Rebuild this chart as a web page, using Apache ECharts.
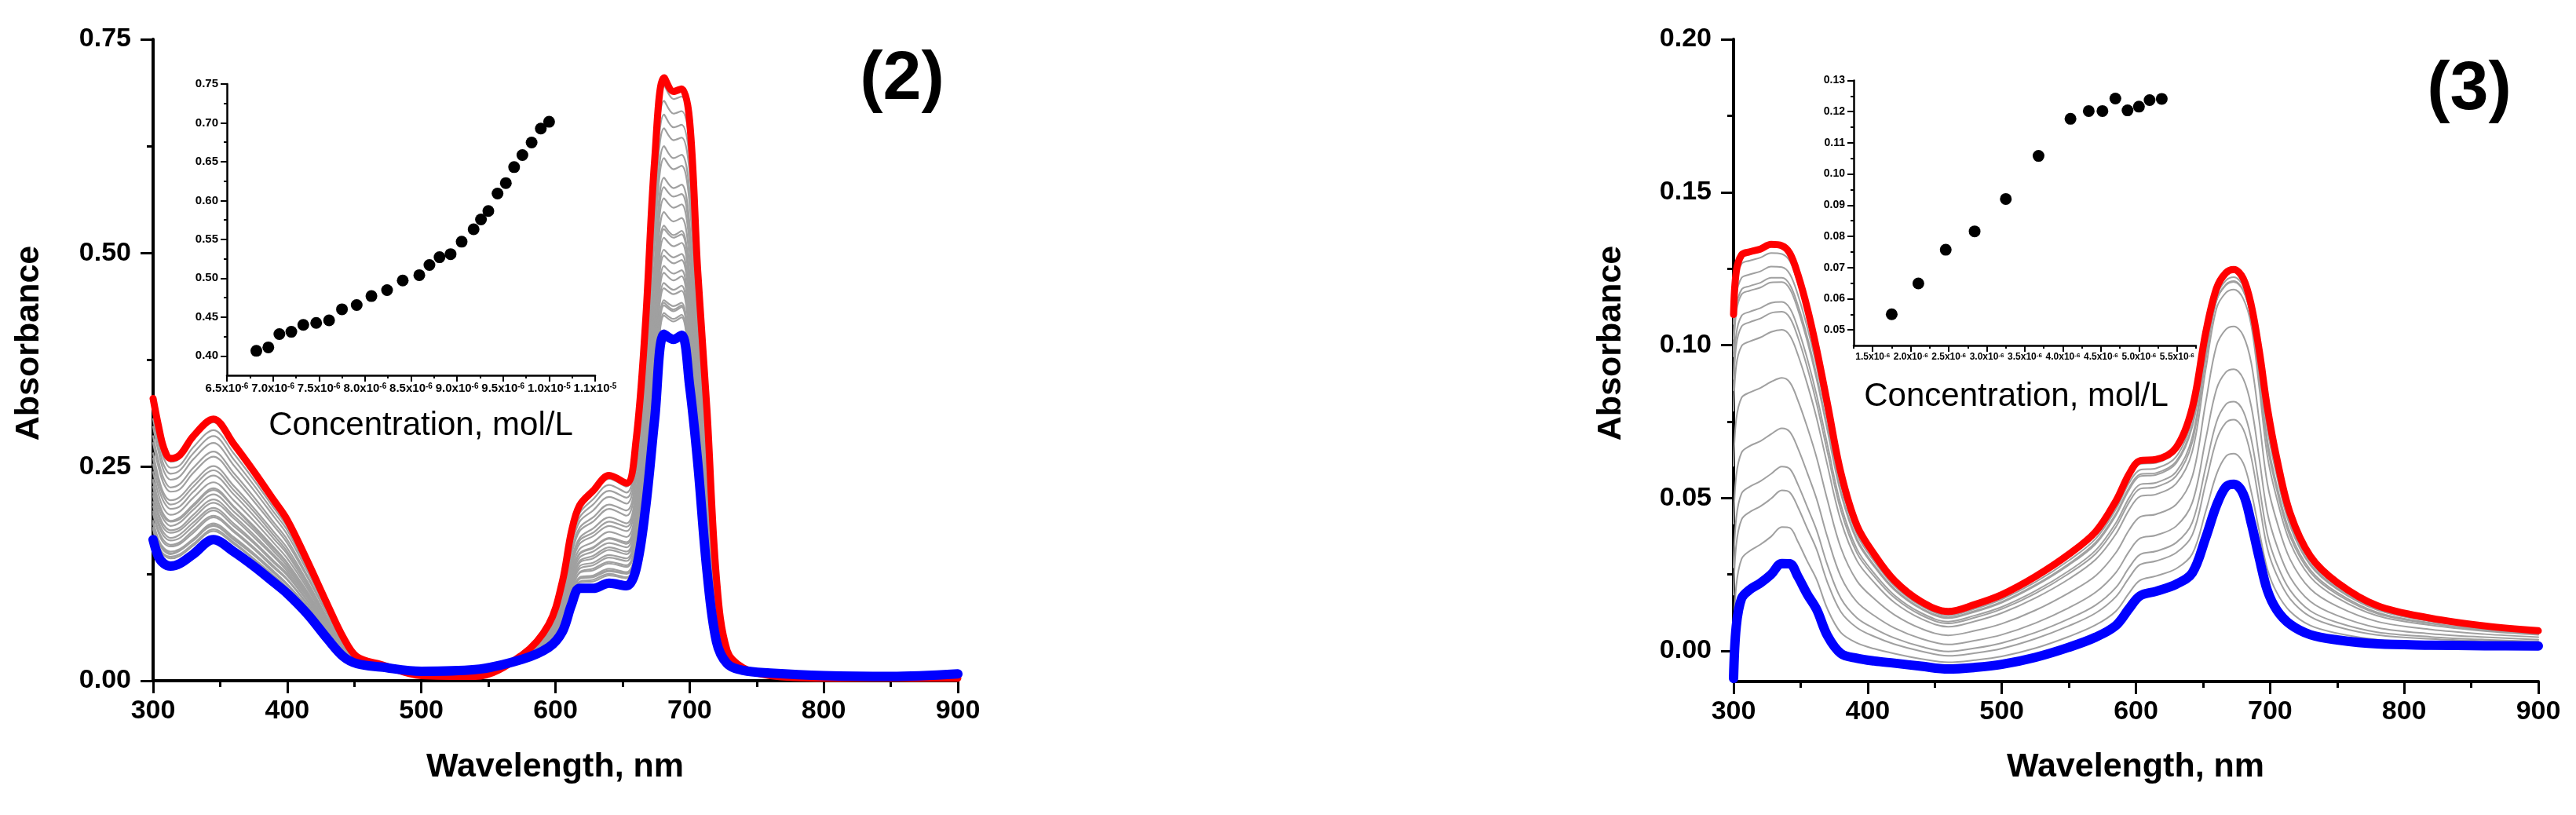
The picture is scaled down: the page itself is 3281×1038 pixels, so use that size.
<!DOCTYPE html>
<html><head><meta charset="utf-8">
<script src="https://cdn.jsdelivr.net/npm/echarts@6/dist/echarts.min.js"></script>
<style>html,body{margin:0;padding:0;background:#fff}#c{width:3281px;height:1038px}</style>
</head><body><div id="c"></div>
<script>
// ---------------- Panel (2) : main spectra ----------------
const wl2 = [300,304,308,313,320,330,345,360,375,390,400,415,430,442,452,470,500,540,575,595,605,612,618,628,640,653,660,667,674,681,688,694,700,706,713,720,728,740,760,800,850,900];
const red2 = [0.330,0.298,0.272,0.260,0.264,0.286,0.306,0.277,0.245,0.211,0.188,0.140,0.089,0.050,0.028,0.019,0.006,0.005,0.030,0.066,0.115,0.175,0.205,0.222,0.240,0.231,0.280,0.415,0.610,0.705,0.689,0.692,0.655,0.480,0.315,0.120,0.035,0.015,0.006,0.003,0.003,0.003];
const blue2 = [0.165,0.145,0.137,0.134,0.137,0.148,0.165,0.151,0.134,0.115,0.102,0.078,0.049,0.028,0.020,0.016,0.011,0.013,0.025,0.039,0.057,0.089,0.108,0.108,0.114,0.111,0.130,0.200,0.307,0.405,0.399,0.404,0.345,0.256,0.128,0.046,0.020,0.012,0.009,0.006,0.005,0.008];
// one row per wavelength of wl2, 25 intermediate (grey) spectra per row
const gray2 = [
[0.168,0.177,0.179,0.184,0.185,0.187,0.195,0.198,0.204,0.209,0.216,0.220,0.227,0.233,0.235,0.244,0.253,0.260,0.266,0.278,0.286,0.297,0.306,0.315,0.325],
[0.147,0.156,0.158,0.162,0.164,0.165,0.173,0.176,0.182,0.186,0.192,0.196,0.202,0.208,0.210,0.218,0.226,0.233,0.238,0.250,0.257,0.268,0.276,0.284,0.293],
[0.139,0.147,0.148,0.152,0.154,0.155,0.161,0.164,0.169,0.173,0.178,0.182,0.188,0.192,0.194,0.201,0.209,0.215,0.219,0.230,0.236,0.245,0.252,0.260,0.268],
[0.136,0.143,0.145,0.148,0.149,0.151,0.157,0.159,0.164,0.167,0.173,0.176,0.181,0.186,0.187,0.194,0.201,0.206,0.211,0.221,0.226,0.235,0.242,0.249,0.256],
[0.139,0.146,0.148,0.152,0.153,0.154,0.160,0.162,0.167,0.171,0.176,0.179,0.185,0.189,0.191,0.198,0.204,0.210,0.215,0.224,0.230,0.239,0.246,0.252,0.260],
[0.150,0.158,0.160,0.164,0.165,0.166,0.173,0.176,0.181,0.185,0.190,0.194,0.200,0.204,0.206,0.214,0.221,0.227,0.232,0.243,0.249,0.259,0.266,0.273,0.282],
[0.167,0.175,0.177,0.181,0.182,0.184,0.191,0.193,0.199,0.202,0.208,0.212,0.218,0.223,0.225,0.232,0.240,0.246,0.251,0.262,0.268,0.278,0.286,0.293,0.302],
[0.153,0.160,0.162,0.165,0.166,0.168,0.174,0.176,0.181,0.184,0.190,0.193,0.198,0.203,0.204,0.211,0.218,0.223,0.228,0.238,0.243,0.252,0.259,0.266,0.273],
[0.136,0.142,0.143,0.147,0.148,0.149,0.154,0.156,0.161,0.163,0.168,0.171,0.176,0.179,0.181,0.187,0.193,0.198,0.202,0.210,0.215,0.223,0.229,0.235,0.242],
[0.116,0.122,0.123,0.126,0.127,0.128,0.132,0.134,0.138,0.140,0.145,0.147,0.151,0.154,0.156,0.161,0.166,0.170,0.174,0.181,0.185,0.192,0.197,0.202,0.208],
[0.103,0.108,0.109,0.112,0.113,0.113,0.118,0.119,0.123,0.125,0.128,0.131,0.134,0.137,0.138,0.143,0.148,0.151,0.155,0.161,0.165,0.171,0.176,0.180,0.185],
[0.079,0.083,0.083,0.085,0.086,0.086,0.089,0.090,0.093,0.094,0.097,0.099,0.101,0.103,0.104,0.108,0.111,0.114,0.116,0.121,0.123,0.128,0.131,0.134,0.138],
[0.050,0.052,0.052,0.054,0.054,0.054,0.056,0.057,0.059,0.060,0.061,0.062,0.064,0.065,0.066,0.068,0.070,0.072,0.073,0.077,0.078,0.081,0.083,0.085,0.088],
[0.028,0.030,0.030,0.031,0.031,0.031,0.032,0.032,0.033,0.034,0.035,0.035,0.036,0.037,0.037,0.039,0.040,0.041,0.041,0.043,0.044,0.046,0.047,0.048,0.049],
[0.020,0.021,0.021,0.021,0.021,0.021,0.021,0.022,0.022,0.022,0.023,0.023,0.023,0.023,0.023,0.024,0.024,0.025,0.025,0.026,0.026,0.026,0.027,0.027,0.028],
[0.016,0.016,0.016,0.016,0.016,0.016,0.017,0.017,0.017,0.017,0.017,0.017,0.017,0.017,0.017,0.017,0.018,0.018,0.018,0.018,0.018,0.018,0.019,0.019,0.019],
[0.011,0.011,0.011,0.010,0.010,0.010,0.010,0.010,0.010,0.010,0.009,0.009,0.009,0.009,0.009,0.009,0.008,0.008,0.008,0.008,0.007,0.007,0.007,0.006,0.006],
[0.013,0.012,0.012,0.012,0.012,0.012,0.012,0.011,0.011,0.011,0.011,0.010,0.010,0.010,0.010,0.009,0.009,0.008,0.008,0.008,0.007,0.007,0.006,0.006,0.005],
[0.025,0.025,0.025,0.026,0.026,0.026,0.026,0.026,0.026,0.026,0.027,0.027,0.027,0.027,0.027,0.027,0.028,0.028,0.028,0.028,0.029,0.029,0.029,0.030,0.030],
[0.039,0.041,0.041,0.042,0.042,0.043,0.044,0.044,0.046,0.046,0.047,0.048,0.049,0.050,0.050,0.052,0.053,0.055,0.056,0.058,0.059,0.061,0.062,0.064,0.065],
[0.058,0.061,0.062,0.064,0.064,0.065,0.068,0.069,0.071,0.072,0.075,0.076,0.079,0.081,0.082,0.085,0.088,0.090,0.092,0.097,0.100,0.104,0.107,0.110,0.113],
[0.090,0.095,0.096,0.099,0.100,0.100,0.105,0.106,0.110,0.112,0.115,0.118,0.121,0.124,0.125,0.130,0.135,0.138,0.142,0.148,0.152,0.158,0.163,0.167,0.172],
[0.110,0.115,0.116,0.119,0.120,0.121,0.126,0.127,0.131,0.134,0.138,0.140,0.144,0.148,0.149,0.154,0.160,0.164,0.167,0.175,0.179,0.186,0.191,0.196,0.202],
[0.110,0.116,0.118,0.121,0.122,0.123,0.129,0.131,0.135,0.138,0.143,0.146,0.151,0.155,0.156,0.162,0.169,0.173,0.178,0.186,0.191,0.199,0.206,0.212,0.219],
[0.116,0.123,0.125,0.128,0.129,0.131,0.137,0.139,0.144,0.147,0.153,0.156,0.161,0.166,0.167,0.174,0.181,0.186,0.191,0.201,0.206,0.215,0.222,0.229,0.236],
[0.113,0.120,0.121,0.125,0.126,0.127,0.133,0.135,0.140,0.143,0.148,0.151,0.156,0.160,0.162,0.168,0.175,0.180,0.184,0.193,0.199,0.207,0.214,0.220,0.227],
[0.132,0.141,0.143,0.147,0.148,0.150,0.157,0.160,0.166,0.170,0.176,0.180,0.186,0.191,0.193,0.201,0.210,0.216,0.222,0.233,0.240,0.250,0.258,0.266,0.276],
[0.203,0.216,0.218,0.225,0.226,0.229,0.239,0.243,0.251,0.257,0.266,0.271,0.281,0.288,0.291,0.302,0.314,0.323,0.331,0.348,0.357,0.372,0.384,0.395,0.409],
[0.312,0.329,0.332,0.342,0.344,0.347,0.362,0.368,0.379,0.387,0.400,0.407,0.421,0.431,0.435,0.451,0.468,0.481,0.492,0.515,0.529,0.550,0.566,0.582,0.601],
[0.410,0.427,0.430,0.439,0.442,0.445,0.459,0.465,0.477,0.485,0.497,0.504,0.518,0.528,0.532,0.548,0.564,0.577,0.588,0.611,0.625,0.646,0.662,0.678,0.696],
[0.403,0.420,0.423,0.432,0.434,0.438,0.452,0.457,0.468,0.476,0.488,0.495,0.508,0.518,0.521,0.537,0.553,0.566,0.576,0.598,0.611,0.632,0.647,0.663,0.680],
[0.408,0.425,0.428,0.437,0.439,0.442,0.456,0.462,0.473,0.480,0.492,0.499,0.512,0.522,0.526,0.541,0.557,0.569,0.580,0.602,0.615,0.635,0.650,0.666,0.683],
[0.350,0.368,0.371,0.380,0.383,0.386,0.401,0.407,0.419,0.427,0.440,0.448,0.461,0.472,0.476,0.493,0.510,0.523,0.534,0.558,0.572,0.594,0.610,0.627,0.646],
[0.259,0.272,0.275,0.282,0.283,0.286,0.297,0.301,0.310,0.315,0.325,0.330,0.340,0.348,0.351,0.363,0.375,0.385,0.393,0.410,0.420,0.436,0.448,0.460,0.473],
[0.131,0.142,0.144,0.149,0.151,0.153,0.162,0.165,0.173,0.178,0.185,0.190,0.198,0.205,0.207,0.217,0.227,0.235,0.242,0.257,0.265,0.278,0.288,0.298,0.309],
[0.047,0.051,0.052,0.054,0.055,0.056,0.059,0.061,0.064,0.066,0.069,0.071,0.074,0.076,0.077,0.081,0.085,0.089,0.091,0.097,0.100,0.105,0.109,0.113,0.118],
[0.020,0.021,0.021,0.022,0.022,0.022,0.023,0.023,0.024,0.024,0.025,0.025,0.026,0.026,0.026,0.027,0.028,0.029,0.029,0.030,0.031,0.032,0.033,0.034,0.035],
[0.012,0.012,0.012,0.012,0.012,0.012,0.013,0.013,0.013,0.013,0.013,0.013,0.013,0.013,0.013,0.013,0.014,0.014,0.014,0.014,0.014,0.014,0.015,0.015,0.015],
[0.009,0.009,0.009,0.009,0.009,0.009,0.008,0.008,0.008,0.008,0.008,0.008,0.008,0.008,0.008,0.008,0.007,0.007,0.007,0.007,0.007,0.007,0.006,0.006,0.006],
[0.006,0.006,0.006,0.006,0.006,0.006,0.005,0.005,0.005,0.005,0.005,0.005,0.005,0.005,0.005,0.005,0.004,0.004,0.004,0.004,0.004,0.004,0.003,0.003,0.003],
[0.005,0.005,0.005,0.005,0.005,0.005,0.005,0.005,0.005,0.005,0.004,0.004,0.004,0.004,0.004,0.004,0.004,0.004,0.004,0.004,0.004,0.004,0.003,0.003,0.003],
[0.008,0.008,0.008,0.007,0.007,0.007,0.007,0.007,0.007,0.007,0.006,0.006,0.006,0.006,0.006,0.006,0.005,0.005,0.005,0.005,0.004,0.004,0.004,0.003,0.003]
];
// Panel (2) inset
const conc2 = [6.82e-6,6.95e-6,7.07e-6,7.20e-6,7.33e-6,7.47e-6,7.61e-6,7.75e-6,7.91e-6,8.07e-6,8.24e-6,8.41e-6,8.59e-6,8.70e-6,8.81e-6,8.93e-6,9.05e-6,9.18e-6,9.26e-6,9.34e-6,9.44e-6,9.53e-6,9.62e-6,9.71e-6,9.81e-6,9.91e-6,10.0e-6];
const abs2 = [0.4065,0.411,0.428,0.431,0.440,0.4425,0.4457,0.460,0.4655,0.477,0.4846,0.497,0.504,0.517,0.527,0.531,0.547,0.563,0.5757,0.5865,0.609,0.6225,0.643,0.6585,0.6747,0.6927,0.7014];

// ---------------- Panel (3) : main spectra ----------------
const wl3 = [300,302,306,312,320,328,336,342,348,355,362,370,380,392,405,420,440,460,480,500,525,550,570,585,595,603,615,630,642,652,660,667,673,680,686,692,698,705,715,730,750,780,820,860,900];
const red3 = [0.110,0.124,0.1295,0.1305,0.1314,0.1329,0.1325,0.1300,0.1230,0.1120,0.0985,0.0808,0.0583,0.0410,0.0315,0.0230,0.0161,0.0129,0.0152,0.0184,0.0243,0.0316,0.0390,0.0490,0.0579,0.0622,0.0626,0.0665,0.0795,0.1040,0.1185,0.1236,0.1247,0.1218,0.1130,0.0980,0.0795,0.0630,0.0450,0.0310,0.0224,0.0148,0.0107,0.0082,0.0066];
const blue3 = [-0.009,0.008,0.0172,0.0200,0.0222,0.0250,0.0286,0.0285,0.0243,0.0185,0.0135,0.0050,-0.0008,-0.0024,-0.0033,-0.0040,-0.0050,-0.0059,-0.0054,-0.0044,-0.0021,0.0012,0.0045,0.0083,0.0139,0.0180,0.0195,0.0218,0.0255,0.0370,0.0475,0.0536,0.0545,0.0513,0.0418,0.0303,0.0198,0.0134,0.0087,0.0053,0.0036,0.0023,0.0019,0.0017,0.0016];
// one row per wavelength of wl3, 12 intermediate (grey) spectra per row
const gray3 = [
[0.0047,0.0184,0.0273,0.0416,0.0605,0.0785,0.0852,0.0889,0.0963,0.0980,0.1020,0.1069],
[0.0213,0.0347,0.0434,0.0573,0.0757,0.0933,0.0999,0.1035,0.1107,0.1123,0.1162,0.1210],
[0.0301,0.0430,0.0515,0.0649,0.0828,0.0997,0.1061,0.1096,0.1166,0.1182,0.1220,0.1266],
[0.0327,0.0454,0.0537,0.0670,0.0845,0.1012,0.1075,0.1109,0.1178,0.1193,0.1231,0.1276],
[0.0348,0.0473,0.0555,0.0686,0.0860,0.1025,0.1087,0.1121,0.1188,0.1204,0.1241,0.1286],
[0.0374,0.0498,0.0579,0.0709,0.0880,0.1043,0.1105,0.1138,0.1205,0.1220,0.1257,0.1301],
[0.0405,0.0525,0.0603,0.0728,0.0893,0.1050,0.1109,0.1141,0.1206,0.1220,0.1255,0.1298],
[0.0402,0.0518,0.0595,0.0716,0.0878,0.1031,0.1089,0.1120,0.1183,0.1197,0.1232,0.1274],
[0.0357,0.0470,0.0544,0.0662,0.0819,0.0968,0.1025,0.1055,0.1116,0.1130,0.1164,0.1204],
[0.0293,0.0400,0.0470,0.0582,0.0731,0.0872,0.0926,0.0955,0.1012,0.1026,0.1057,0.1096],
[0.0233,0.0331,0.0394,0.0496,0.0631,0.0760,0.0808,0.0835,0.0887,0.0899,0.0928,0.0963],
[0.0137,0.0224,0.0281,0.0372,0.0493,0.0607,0.0650,0.0674,0.0721,0.0731,0.0757,0.0788],
[0.0060,0.0128,0.0172,0.0243,0.0337,0.0426,0.0460,0.0478,0.0515,0.0523,0.0543,0.0568],
[0.0026,0.0076,0.0108,0.0160,0.0229,0.0295,0.0320,0.0333,0.0360,0.0366,0.0381,0.0399],
[0.0007,0.0047,0.0073,0.0115,0.0170,0.0223,0.0243,0.0253,0.0275,0.0280,0.0292,0.0306],
[-0.0009,0.0022,0.0042,0.0075,0.0118,0.0158,0.0174,0.0182,0.0199,0.0203,0.0212,0.0223],
[-0.0026,-0.0001,0.0014,0.0040,0.0073,0.0105,0.0117,0.0124,0.0137,0.0140,0.0147,0.0156],
[-0.0037,-0.0016,-0.0002,0.0021,0.0051,0.0079,0.0090,0.0096,0.0107,0.0110,0.0116,0.0124],
[-0.0030,-0.0007,0.0009,0.0034,0.0066,0.0097,0.0109,0.0116,0.0128,0.0131,0.0138,0.0147],
[-0.0018,0.0008,0.0026,0.0053,0.0089,0.0124,0.0137,0.0144,0.0158,0.0161,0.0169,0.0178],
[0.0009,0.0040,0.0060,0.0091,0.0133,0.0173,0.0188,0.0196,0.0213,0.0216,0.0225,0.0236],
[0.0047,0.0082,0.0105,0.0141,0.0190,0.0235,0.0253,0.0262,0.0281,0.0285,0.0296,0.0308],
[0.0085,0.0124,0.0150,0.0192,0.0246,0.0299,0.0318,0.0329,0.0350,0.0355,0.0367,0.0381],
[0.0130,0.0177,0.0207,0.0256,0.0321,0.0382,0.0405,0.0418,0.0443,0.0449,0.0463,0.0479],
[0.0190,0.0240,0.0273,0.0326,0.0396,0.0462,0.0487,0.0501,0.0528,0.0535,0.0550,0.0568],
[0.0231,0.0282,0.0315,0.0368,0.0438,0.0505,0.0530,0.0544,0.0571,0.0577,0.0592,0.0611],
[0.0245,0.0294,0.0326,0.0378,0.0447,0.0512,0.0536,0.0550,0.0576,0.0582,0.0597,0.0615],
[0.0269,0.0321,0.0354,0.0408,0.0479,0.0547,0.0572,0.0586,0.0614,0.0620,0.0635,0.0653],
[0.0317,0.0379,0.0420,0.0485,0.0570,0.0652,0.0683,0.0699,0.0733,0.0740,0.0759,0.0781],
[0.0456,0.0548,0.0601,0.0692,0.0812,0.0920,0.0952,0.0962,0.0984,0.0994,0.1016,0.1031],
[0.0577,0.0688,0.0748,0.0855,0.0997,0.1119,0.1145,0.1145,0.1147,0.1159,0.1181,0.1184],
[0.0636,0.0746,0.0806,0.0911,0.1051,0.1171,0.1196,0.1196,0.1198,0.1211,0.1232,0.1235],
[0.0645,0.0756,0.0815,0.0921,0.1061,0.1182,0.1207,0.1207,0.1209,0.1222,0.1243,0.1246],
[0.0614,0.0725,0.0784,0.0890,0.1031,0.1152,0.1178,0.1178,0.1180,0.1193,0.1214,0.1217],
[0.0520,0.0632,0.0692,0.0799,0.0941,0.1064,0.1089,0.1089,0.1092,0.1104,0.1126,0.1129],
[0.0390,0.0482,0.0537,0.0628,0.0750,0.0859,0.0891,0.0901,0.0923,0.0934,0.0956,0.0971],
[0.0267,0.0335,0.0380,0.0452,0.0547,0.0637,0.0671,0.0689,0.0726,0.0735,0.0755,0.0779],
[0.0191,0.0248,0.0285,0.0345,0.0424,0.0499,0.0527,0.0542,0.0573,0.0580,0.0597,0.0617],
[0.0129,0.0170,0.0198,0.0241,0.0299,0.0354,0.0374,0.0386,0.0408,0.0413,0.0426,0.0441],
[0.0083,0.0112,0.0131,0.0162,0.0203,0.0242,0.0257,0.0265,0.0280,0.0284,0.0293,0.0303],
[0.0058,0.0079,0.0093,0.0116,0.0146,0.0174,0.0185,0.0191,0.0202,0.0205,0.0211,0.0219],
[0.0037,0.0052,0.0061,0.0076,0.0096,0.0115,0.0122,0.0126,0.0134,0.0135,0.0140,0.0145],
[0.0029,0.0039,0.0046,0.0056,0.0070,0.0084,0.0089,0.0091,0.0097,0.0098,0.0101,0.0105],
[0.0024,0.0032,0.0037,0.0045,0.0055,0.0065,0.0068,0.0070,0.0075,0.0075,0.0078,0.0080],
[0.0022,0.0028,0.0031,0.0037,0.0045,0.0053,0.0056,0.0057,0.0060,0.0061,0.0063,0.0065]
];
// Panel (3) inset
const conc3 = [1.75e-6,2.10e-6,2.46e-6,2.84e-6,3.25e-6,3.68e-6,4.10e-6,4.34e-6,4.52e-6,4.69e-6,4.85e-6,5.00e-6,5.14e-6,5.30e-6];
const abs3 = [0.0550,0.0649,0.0757,0.0816,0.0920,0.1058,0.1177,0.1202,0.1202,0.1242,0.1204,0.1216,0.1237,0.1241];

// ---------------- Ticks and tick labels ----------------
const wlTicks = [300,400,500,600,700,800,900];
const wlLabels = ['300','400','500','600','700','800','900'];
const wlMinor = [350,450,550,650,750,850];
const y2Ticks = [0,0.25,0.5,0.75];
const y2Labels = ['0.00','0.25','0.50','0.75'];
const y2Minor = [0.125,0.375,0.625];
const y3Ticks = [0,0.05,0.1,0.15,0.2];
const y3Labels = ['0.00','0.05','0.10','0.15','0.20'];
const y3Minor = [0.025,0.075,0.125,0.175];
const in2XTicks = [6.5e-6,7.0e-6,7.5e-6,8.0e-6,8.5e-6,9.0e-6,9.5e-6,1.0e-5,1.05e-5];
const in2XLabels = [['6.5','-6'],['7.0','-6'],['7.5','-6'],['8.0','-6'],['8.5','-6'],['9.0','-6'],['9.5','-6'],['1.0','-5'],['1.1','-5']];
const in2XMinor = [6.75e-6,7.25e-6,7.75e-6,8.25e-6,8.75e-6,9.25e-6,9.75e-6,1.025e-5];
const in2YTicks = [0.40,0.45,0.50,0.55,0.60,0.65,0.70,0.75];
const in2YLabels = ['0.40','0.45','0.50','0.55','0.60','0.65','0.70','0.75'];
const in2YMinor = [0.425,0.475,0.525,0.575,0.625,0.675,0.725];
const in3XTicks = [1.5e-6,2.0e-6,2.5e-6,3.0e-6,3.5e-6,4.0e-6,4.5e-6,5.0e-6,5.5e-6];
const in3XLabels = [['1.5','-6'],['2.0','-6'],['2.5','-6'],['3.0','-6'],['3.5','-6'],['4.0','-6'],['4.5','-6'],['5.0','-6'],['5.5','-6']];
const in3XMinor = [1.25e-6,1.75e-6,2.25e-6,2.75e-6,3.25e-6,3.75e-6,4.25e-6,4.75e-6,5.25e-6,5.75e-6];
const in3YTicks = [0.05,0.06,0.07,0.08,0.09,0.10,0.11,0.12,0.13];
const in3YLabels = ['0.05','0.06','0.07','0.08','0.09','0.10','0.11','0.12','0.13'];
const in3YMinor = [0.055,0.065,0.075,0.085,0.095,0.105,0.115,0.125];

// ---------------- Build chart ----------------
const FONT = '"Liberation Sans", Arial, Helvetica, sans-serif';
function pick(ticks, labels, v) {
  let bi = 0, bd = Infinity;
  ticks.forEach((t, i) => { const d = Math.abs(t - v); if (d < bd) { bd = d; bi = i; } });
  return labels[bi];
}
function axisPair(dim, gridIndex, min, max, majors, minors, fmt, o) {
  const pos = dim === 'x' ? 'bottom' : 'left';
  const main = {
    type: 'value', gridIndex, min, max, position: pos,
    axisLine: { show: true, onZero: false, lineStyle: { color: '#000', width: o.lw } },
    axisTick: { show: true, inside: false, customValues: majors, length: o.tl, lineStyle: { color: '#000', width: o.tw } },
    minorTick: { show: false },
    axisLabel: { show: true, customValues: majors, formatter: fmt, margin: o.margin, color: '#000',
      fontSize: o.fs, fontWeight: 'bold', fontFamily: FONT, hideOverlap: false,
      showMinLabel: true, showMaxLabel: true, rich: o.rich },
    splitLine: { show: false }, splitArea: { show: false }
  };
  const minor = {
    type: 'value', gridIndex, min, max, position: pos,
    axisLine: { show: false, onZero: false },
    axisTick: { show: true, inside: false, customValues: minors, length: o.ml, lineStyle: { color: '#000', width: o.tw } },
    minorTick: { show: false },
    axisLabel: { show: false }, splitLine: { show: false }, splitArea: { show: false }
  };
  return [main, minor];
}
const mainX = { lw: 4, tw: 3, tl: 16, ml: 8, fs: 34, margin: 22 };
const mainY = { lw: 4, tw: 3, tl: 16, ml: 8, fs: 34, margin: 28 };
function supRich(fs, sfs) {
  return {
    m: { fontSize: fs, fontWeight: 'bold', fontFamily: FONT, color: '#000' },
    e: { fontSize: sfs, fontWeight: 'bold', fontFamily: FONT, color: '#000', verticalAlign: 'top' }
  };
}
const in2X = { lw: 2.5, tw: 2, tl: 8, ml: 4, fs: 15, margin: 9, rich: supRich(15, 10) };
const in2Y = { lw: 2.5, tw: 2, tl: 8, ml: 4, fs: 15, margin: 11 };
const in3X = { lw: 2.5, tw: 2, tl: 8, ml: 4, fs: 12, margin: 9, rich: supRich(12, 8) };
const in3Y = { lw: 2.5, tw: 2, tl: 8, ml: 4, fs: 14, margin: 11 };
const supFmt = (ticks, labels) => v => { const p = pick(ticks, labels, v); return '{m|' + p[0] + 'x10}{e|' + p[1] + '}'; };

const xAxes = [
  ...axisPair('x', 0, 300, 900, wlTicks, wlMinor, v => pick(wlTicks, wlLabels, v), mainX),
  ...axisPair('x', 1, 6.5e-6, 1.05e-5, in2XTicks, in2XMinor, supFmt(in2XTicks, in2XLabels), in2X),
  ...axisPair('x', 2, 300, 900, wlTicks, wlMinor, v => pick(wlTicks, wlLabels, v), mainX),
  ...axisPair('x', 3, 1.25e-6, 5.75e-6, in3XTicks, in3XMinor, supFmt(in3XTicks, in3XLabels), in3X)
];
const yAxes = [
  ...axisPair('y', 0, 0, 0.75, y2Ticks, y2Minor, v => pick(y2Ticks, y2Labels, v), mainY),
  ...axisPair('y', 1, 0.375, 0.75, in2YTicks, in2YMinor, v => pick(in2YTicks, in2YLabels, v), in2Y),
  ...axisPair('y', 2, -0.01, 0.2, y3Ticks, y3Minor, v => pick(y3Ticks, y3Labels, v), mainY),
  ...axisPair('y', 3, 0.045, 0.13, in3YTicks, in3YMinor, v => pick(in3YTicks, in3YLabels, v), in3Y)
];

const series = [];
function lineSeries(axisIdx, xs, ys, color, width) {
  return { type: 'line', xAxisIndex: axisIdx, yAxisIndex: axisIdx, data: xs.map((w, i) => [w, ys[i]]),
    showSymbol: false, symbol: 'none', smooth: 0.35, silent: true, clip: true,
    lineStyle: { color, width, cap: 'round', join: 'round', opacity: 1 } };
}
for (let k = 0; k < gray2[0].length; k++) series.push(lineSeries(0, wl2, gray2.map(r => r[k]), '#a0a0a0', 2.2));
series.push(lineSeries(0, wl2, red2, '#ff0000', 9));
series.push(lineSeries(0, wl2, blue2, '#0000ff', 12));
for (let k = 0; k < gray3[0].length; k++) series.push(lineSeries(4, wl3, gray3.map(r => r[k]), '#a0a0a0', 2));
series.push(lineSeries(4, wl3, red3, '#ff0000', 9));
series.push(lineSeries(4, wl3, blue3, '#0000ff', 12));
series.push({ type: 'scatter', xAxisIndex: 2, yAxisIndex: 2, data: conc2.map((c, i) => [c, abs2[i]]),
  symbol: 'circle', symbolSize: 15, itemStyle: { color: '#000', opacity: 1 }, silent: true, z: 5 });
series.push({ type: 'scatter', xAxisIndex: 6, yAxisIndex: 6, data: conc3.map((c, i) => [c, abs3[i]]),
  symbol: 'circle', symbolSize: 15, itemStyle: { color: '#000', opacity: 1 }, silent: true, z: 5 });

function txt(x, y, text, font, rot) {
  return { type: 'text', x, y, rotation: rot || 0, silent: true, z: 10,
    style: { text, font, fill: '#000', align: 'center', verticalAlign: 'middle', textAlign: 'center', textVerticalAlign: 'middle' } };
}
const chart = echarts.init(document.getElementById('c'), null, { renderer: 'canvas', width: 3281, height: 1038 });
chart.setOption({
  animation: false,
  backgroundColor: '#ffffff',
  grid: [
    { left: 195, top: 50, width: 1025, height: 817, outerBoundsMode: 'none', containLabel: false },
    { left: 289, top: 107, width: 469, height: 371, outerBoundsMode: 'none', containLabel: false },
    { left: 2208, top: 50, width: 1025, height: 818, outerBoundsMode: 'none', containLabel: false },
    { left: 2361, top: 102.5, width: 436, height: 337.5, outerBoundsMode: 'none', containLabel: false }
  ],
  xAxis: xAxes,
  yAxis: yAxes,
  series,
  graphic: [
    txt(37, 437, 'Absorbance', 'bold 43px ' + FONT, Math.PI / 2),
    txt(2052, 437, 'Absorbance', 'bold 43px ' + FONT, Math.PI / 2),
    txt(707, 977, 'Wavelength, nm', 'bold 43px ' + FONT),
    txt(2720, 977, 'Wavelength, nm', 'bold 43px ' + FONT),
    txt(536, 542, 'Concentration, mol/L', '42px ' + FONT),
    txt(2568, 505, 'Concentration, mol/L', '42px ' + FONT),
    txt(1149, 102, '(2)', 'bold 88px ' + FONT),
    txt(3145, 115, '(3)', 'bold 88px ' + FONT)
  ]
});
</script>
</body></html>
